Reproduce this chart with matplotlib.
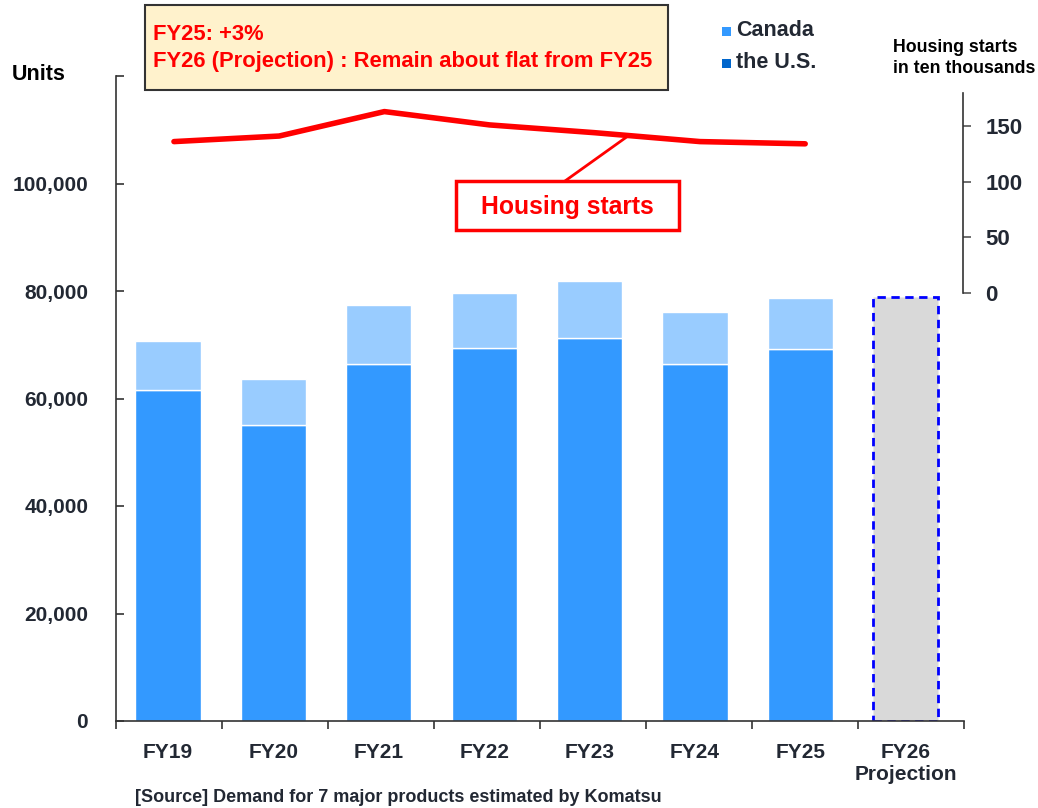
import matplotlib
matplotlib.use("Agg")
import matplotlib.pyplot as plt
from matplotlib.patches import Rectangle
from matplotlib.lines import Line2D

plt.rcParams['font.family'] = ['Liberation Sans', 'DejaVu Sans']
plt.rcParams['font.weight'] = 'bold'

years = ['FY19', 'FY20', 'FY21', 'FY22', 'FY23', 'FY24', 'FY25', 'FY26\nProjection']
us_units = [61600, 55000, 66500, 69400, 71300, 66500, 69300]
canada_units = [9100, 8700, 10900, 10300, 10500, 9600, 9400]
projection_total = 78800
housing_starts = [136, 141, 163, 151, 144, 136, 134]

TXT = '#222833'
W, H = 1038, 808

fig = plt.figure(figsize=(W / 100, H / 100), dpi=100)


def fx(px):
    return px / W


def fy(py):
    return 1 - py / H


ax = fig.add_axes([fx(116), fy(721), fx(964) - fx(116), fy(76) - fy(721)])
x = list(range(len(us_units)))
ax.bar(x, us_units, width=0.62, color='#3399FF', edgecolor='white', linewidth=1)
ax.bar(x, canada_units, width=0.62, bottom=us_units, color='#99CCFF',
       edgecolor='white', linewidth=1)
ax.bar([7], [projection_total], width=0.62, color='#D9D9D9', edgecolor='#0000FF',
       linewidth=2, linestyle=(0, (3, 2)))

x_lo, x_hi = -0.493, 7.552
ax.set_xlim(x_lo, x_hi)
ax.set_ylim(0, 120000)
ax.set_yticks(range(0, 120001, 20000))
ax.set_yticklabels(['0', '20,000', '40,000', '60,000', '80,000', '100,000', ''])
ax.set_xticks([x_lo + k * (x_hi - x_lo) / 8 for k in range(9)])
ax.set_xticklabels([])
ax.set_xticks(range(8), minor=True)
ax.set_xticklabels(years, minor=True)
ax.tick_params(axis='x', which='minor', length=0, pad=16, labelsize=15, labelcolor=TXT)
ax.tick_params(axis='x', which='major', length=6, color='#333333', width=1.2)
ax.tick_params(axis='y', direction='in', length=6, color='#333333', width=1.2,
               labelsize=15, labelcolor=TXT, pad=20)
for s in ['top', 'right']:
    ax.spines[s].set_visible(False)
for s in ['left', 'bottom']:
    ax.spines[s].set_color('#333333')
    ax.spines[s].set_linewidth(1.2)

# housing starts axis
ax2 = fig.add_axes([fx(116), fy(292.7), fx(963) - fx(116), fy(92.7) - fy(292.7)])
ax2.patch.set_visible(False)
ax2.plot(x, housing_starts, color='#FF0000', linewidth=4, solid_capstyle='round',
         solid_joinstyle='round')
ax2.set_xlim(-0.551, 7.5)
ax2.set_ylim(0, 180)
ax2.set_yticks([0, 50, 100, 150])
ax2.yaxis.tick_right()
ax2.set_xticks([])
ax2.tick_params(axis='y', length=6, color='#555555', width=1.2, labelsize=16,
                labelcolor=TXT, pad=10)
for s in ['top', 'left', 'bottom']:
    ax2.spines[s].set_visible(False)
ax2.spines['right'].set_color('#333333')
ax2.spines['right'].set_linewidth(1.2)

fig.text(fx(12), fy(75), 'Units', fontsize=15.5, color='black', va='center')
fig.text(fx(893), fy(58), 'Housing starts\nin ten thousands', fontsize=12.8,
         color='black', va='center', linespacing=1.35)

# summary box
fig.add_artist(Rectangle((fx(145), fy(90)), fx(668) - fx(145), fy(5) - fy(90),
                         transform=fig.transFigure, facecolor='#FFF2CC',
                         edgecolor='#333333', linewidth=1.5))
fig.text(fx(153), fy(35), 'FY25: +3%', fontsize=15.8, color='#FF0000', va='center')
fig.text(fx(153), fy(62), 'FY26 (Projection) : Remain about flat from FY25',
         fontsize=15.8, color='#FF0000', va='center')

# housing starts callout
fig.add_artist(Line2D([fx(565), fx(628)], [fy(181), fy(136)], transform=fig.transFigure,
                      color='#FF0000', linewidth=2))
fig.add_artist(Rectangle((fx(456), fy(230)), fx(679) - fx(456), fy(181) - fy(230),
                         transform=fig.transFigure, facecolor='white',
                         edgecolor='#FF0000', linewidth=2.5))
fig.text(fx(567), fy(207), 'Housing starts', fontsize=17.8, color='#FF0000',
         ha='center', va='center')

# legend
fig.add_artist(Rectangle((fx(722), fy(36)), fx(9), fy(0) - fy(9),
                         transform=fig.transFigure, facecolor='#3399FF', edgecolor='none'))
fig.add_artist(Rectangle((fx(722), fy(68)), fx(9), fy(0) - fy(9),
                         transform=fig.transFigure, facecolor='#0066CC', edgecolor='none'))
fig.text(fx(736), fy(31), 'Canada', fontsize=15.5, color=TXT, va='center')
fig.text(fx(736), fy(63), 'the U.S.', fontsize=15.5, color=TXT, va='center')

fig.text(fx(135), fy(797), '[Source] Demand for 7 major products estimated by Komatsu',
         fontsize=13, color=TXT, va='center')

fig.savefig('out.png', dpi=100)
